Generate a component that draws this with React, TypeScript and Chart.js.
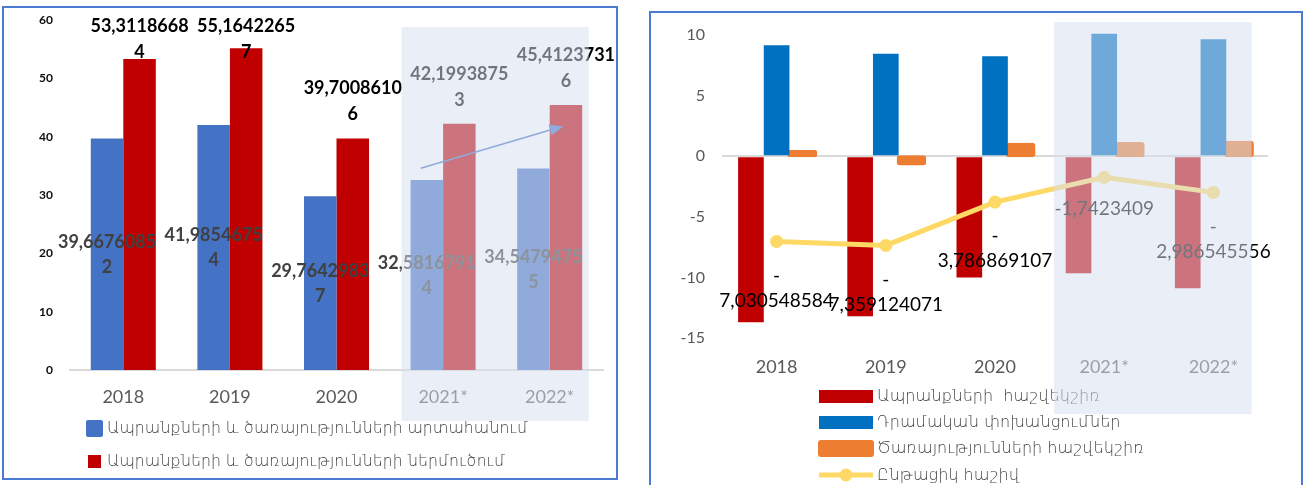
import React, { useEffect, useRef } from 'react';
import { Chart, registerables } from 'chart.js';

Chart.register(...registerables);

// ---------- Left chart data ----------
const YEARS = ['2018', '2019', '2020', '2021*', '2022*'];
const EXPORTS = [39.66760852, 41.98546754, 29.76429837, 32.58167914, 34.54794755];
const IMPORTS = [53.31186684, 55.16422657, 39.70086106, 42.19938753, 45.41237316];
const LEFT_SERIES = [
  'Ապրանքների և ծառայությունների արտահանում',
  'Ապրանքների և ծառայությունների ներմուծում',
];
const LEFT_Y_TICKS = [0, 10, 20, 30, 40, 50, 60];
const TREND_ARROW = [
  { index: 3, shift: -0.21, value: 34.6 },
  { index: 4, shift: 0.13, value: 41.8 },
];

// ---------- Right chart data ----------
const GOODS_BALANCE = [-13.7, -13.2, -10.0, -9.65, -10.9];
const REMITTANCES = [9.15, 8.45, 8.25, 10.1, 9.65];
const SERVICES_BALANCE = [0.35, -0.6, 0.95, 1.0, 1.1];
const CURRENT_ACCOUNT = [-7.030548584, -7.359124071, -3.786869107, -1.7423409, -2.986545556];
const RIGHT_SERIES = [
  'Ապրանքների  հաշվեկշիռ',
  'Դրամական փոխանցումներ',
  'Ծառայությունների հաշվեկշիռ',
  'Ընթացիկ հաշիվ',
];
const RIGHT_Y_TICKS = [-15, -10, -5, 0, 5, 10];
const FORECAST_START = 3;

const NUM_FONT = 'Lato, "Open Sans", sans-serif';
const LEGEND_FONT = '"DejaVu Sans", sans-serif';
const SHADE = 'rgba(212,222,240,0.52)';

function splitLeft(v: number): string[] {
  const s = String(v).replace('.', ',');
  return s.length > 10 ? [s.slice(0, 10), s.slice(10)] : [s];
}
function splitRight(v: number): string[] {
  const s = String(v).replace('.', ',');
  return s.length > 10 ? [s.slice(0, 1), s.slice(1)] : [s];
}

const leftDecor = {
  id: 'leftDecor',
  afterDraw(chart: any) {
    const { ctx, chartArea, scales } = chart;
    const x = scales.x;
    const y = scales.y;
    const catW = x.getPixelForValue(1) - x.getPixelForValue(0);
    ctx.save();
    ctx.textAlign = 'center';
    ctx.textBaseline = 'middle';
    ctx.font = `bold 18px ${NUM_FONT}`;
    // export labels (centered in bar)
    chart.getDatasetMeta(0).data.forEach((bar: any, i: number) => {
      const lines = splitLeft(EXPORTS[i]);
      const c = (bar.y + bar.base) / 2;
      ctx.fillStyle = '#404040';
      ctx.fillText(lines[0], bar.x, c - 12);
      if (lines[1]) ctx.fillText(lines[1], bar.x, c + 13);
    });
    // import labels (above bar, kept inside the plot)
    chart.getDatasetMeta(1).data.forEach((bar: any, i: number) => {
      const lines = splitLeft(IMPORTS[i]);
      const l1 = Math.max(bar.y - 50, chartArea.top + 6);
      ctx.fillStyle = '#000000';
      ctx.fillText(lines[0], bar.x, l1);
      if (lines[1]) ctx.fillText(lines[1], bar.x, l1 + 26);
    });
    // legend
    ctx.textAlign = 'left';
    ctx.font = `300 15.7px ${LEGEND_FONT}`;
    ctx.fillStyle = '#4472C4';
    ctx.beginPath();
    ctx.roundRect(82, 412, 17, 17, 2);
    ctx.fill();
    ctx.fillStyle = '#C00000';
    ctx.fillRect(84, 447, 13, 13);
    ctx.fillStyle = '#404040';
    ctx.fillText(LEFT_SERIES[0], 103, 421);
    ctx.fillText(LEFT_SERIES[1], 103, 454);
    // trend arrow
    const ax0 = x.getPixelForValue(TREND_ARROW[0].index) + TREND_ARROW[0].shift * catW;
    const ay0 = y.getPixelForValue(TREND_ARROW[0].value);
    const ax1 = x.getPixelForValue(TREND_ARROW[1].index) + TREND_ARROW[1].shift * catW;
    const ay1 = y.getPixelForValue(TREND_ARROW[1].value);
    const ang = Math.atan2(ay1 - ay0, ax1 - ax0);
    const hl = 14;
    ctx.strokeStyle = '#4472C4';
    ctx.fillStyle = '#4472C4';
    ctx.lineWidth = 1.5;
    ctx.beginPath();
    ctx.moveTo(ax0, ay0);
    ctx.lineTo(ax1 - Math.cos(ang) * hl * 0.8, ay1 - Math.sin(ang) * hl * 0.8);
    ctx.stroke();
    ctx.beginPath();
    ctx.moveTo(ax1, ay1);
    ctx.lineTo(ax1 - Math.cos(ang) * hl + Math.sin(ang) * 5.5, ay1 - Math.sin(ang) * hl - Math.cos(ang) * 5.5);
    ctx.lineTo(ax1 - Math.cos(ang) * hl - Math.sin(ang) * 5.5, ay1 - Math.sin(ang) * hl + Math.cos(ang) * 5.5);
    ctx.closePath();
    ctx.fill();
    // forecast shade
    const x0 = x.getPixelForValue(FORECAST_START) - 0.39 * catW;
    const x1 = x.getPixelForValue(YEARS.length - 1) + 0.366 * catW;
    const y0 = y.getPixelForValue(58.8);
    const y1 = chartArea.bottom + 51;
    ctx.fillStyle = SHADE;
    ctx.fillRect(x0, y0, x1 - x0, y1 - y0);
    ctx.restore();
  },
};

const rightDecor = {
  id: 'rightDecor',
  afterDraw(chart: any) {
    const { ctx, chartArea, scales } = chart;
    const x = scales.x;
    const catW = x.getPixelForValue(1) - x.getPixelForValue(0);
    ctx.save();
    // current account labels
    ctx.textAlign = 'center';
    ctx.textBaseline = 'middle';
    ctx.font = `19px ${NUM_FONT}`;
    ctx.fillStyle = '#000000';
    chart.getDatasetMeta(3).data.forEach((pt: any, i: number) => {
      const lines = splitRight(CURRENT_ACCOUNT[i]);
      if (lines.length === 1) {
        ctx.fillText(lines[0], pt.x, pt.y + 32);
      } else {
        ctx.fillText(lines[0], pt.x, pt.y + 34);
        ctx.fillText(lines[1], pt.x, pt.y + 59);
      }
    });
    // legend
    ctx.textAlign = 'left';
    ctx.font = `300 16px ${LEGEND_FONT}`;
    ctx.fillStyle = '#C00000';
    ctx.fillRect(168, 377, 54, 13);
    ctx.fillStyle = '#0070C0';
    ctx.fillRect(168, 403, 54, 13);
    ctx.fillStyle = '#ED7D31';
    ctx.beginPath();
    ctx.roundRect(167, 427, 56, 17, 3);
    ctx.fill();
    ctx.strokeStyle = '#FFD966';
    ctx.lineWidth = 5;
    ctx.beginPath();
    ctx.moveTo(168, 462);
    ctx.lineTo(222, 462);
    ctx.stroke();
    ctx.fillStyle = '#FFD966';
    ctx.beginPath();
    ctx.arc(195, 462, 6.5, 0, Math.PI * 2);
    ctx.fill();
    ctx.fillStyle = '#404040';
    ctx.fillText(RIGHT_SERIES[0], 226, 384);
    ctx.fillText(RIGHT_SERIES[1], 226, 410);
    ctx.fillText(RIGHT_SERIES[2], 226, 436);
    ctx.fillText(RIGHT_SERIES[3], 226, 463);
    // forecast shade
    const x0 = x.getPixelForValue(FORECAST_START) - 0.46 * catW;
    const x1 = x.getPixelForValue(YEARS.length - 1) + 0.35 * catW;
    const y0 = chartArea.top - 13;
    const y1 = chartArea.bottom + 76;
    ctx.fillStyle = SHADE;
    ctx.fillRect(x0, y0, x1 - x0, y1 - y0);
    ctx.restore();
  },
};

function fixYAxis(width: number) {
  return (s: any) => {
    s.width = width;
    s.paddingTop = 0;
    s.paddingBottom = 0;
  };
}

function LeftChart() {
  const ref = useRef<HTMLCanvasElement>(null);
  useEffect(() => {
    if (!ref.current) return;
    const chart = new Chart(ref.current, {
      type: 'bar',
      data: {
        labels: YEARS,
        datasets: [
          { label: LEFT_SERIES[0], data: EXPORTS, backgroundColor: '#4472C4' },
          { label: LEFT_SERIES[1], data: IMPORTS, backgroundColor: '#C00000' },
        ],
      },
      options: {
        responsive: false,
        animation: false,
        datasets: { bar: { categoryPercentage: 0.61, barPercentage: 1 } },
        layout: { autoPadding: false, padding: { left: 0, right: 13, top: 12, bottom: 63 } },
        plugins: { legend: { display: false }, tooltip: { enabled: false } },
        scales: {
          x: {
            grid: { display: false, drawTicks: false },
            border: { display: true, color: '#D9D9D9', width: 2 },
            ticks: { color: '#595959', font: { family: NUM_FONT, size: 18 }, padding: 16 },
            afterFit: (s: any) => { s.height = 45; },
          },
          y: {
            min: 0,
            max: 60,
            grid: { display: false, drawTicks: false },
            border: { display: false },
            ticks: { color: '#0D0D0D', font: { family: NUM_FONT, size: 12, weight: 'bold' }, padding: 17 },
            afterBuildTicks: (s: any) => { s.ticks = LEFT_Y_TICKS.map((v) => ({ value: v })); },
            afterFit: fixYAxis(66),
          },
        },
      } as any,
      plugins: [leftDecor],
    });
    return () => chart.destroy();
  }, []);
  return <canvas ref={ref} width={612} height={470} style={{ display: 'block' }} />;
}

function RightChart() {
  const ref = useRef<HTMLCanvasElement>(null);
  useEffect(() => {
    if (!ref.current) return;
    const chart = new Chart(ref.current, {
      type: 'bar',
      data: {
        labels: YEARS,
        datasets: [
          { label: RIGHT_SERIES[0], data: GOODS_BALANCE, backgroundColor: '#C00000', order: 1 },
          { label: RIGHT_SERIES[1], data: REMITTANCES, backgroundColor: '#0070C0', order: 1, clip: false },
          {
            label: RIGHT_SERIES[2],
            data: SERVICES_BALANCE,
            backgroundColor: '#ED7D31',
            borderColor: '#ED7D31',
            borderWidth: 1,
            borderRadius: 3,
            borderSkipped: false,
            inflateAmount: 2,
            order: 1,
          },
          {
            type: 'line',
            label: RIGHT_SERIES[3],
            data: CURRENT_ACCOUNT,
            borderColor: '#FFD966',
            backgroundColor: '#FFD966',
            borderWidth: 5,
            pointRadius: 6.5,
            pointBorderWidth: 0,
            pointBackgroundColor: '#FFD966',
            tension: 0,
            order: 0,
          },
        ],
      } as any,
      options: {
        responsive: false,
        animation: false,
        datasets: { bar: { categoryPercentage: 0.705, barPercentage: 1 } },
        layout: { autoPadding: false, padding: { left: 0, right: 33, top: 22, bottom: 111 } },
        plugins: { legend: { display: false }, tooltip: { enabled: false } },
        scales: {
          x: {
            offset: true,
            grid: { display: false, drawTicks: false },
            border: { display: false },
            ticks: { color: '#595959', font: { family: NUM_FONT, size: 18 }, padding: 18 },
            afterFit: (s: any) => { s.height = 40; },
          },
          y: {
            min: -15,
            max: 10,
            grid: {
              drawTicks: false,
              lineWidth: 2,
              color: (c: any) => (c.tick && c.tick.value === 0 ? '#D9D9D9' : 'rgba(0,0,0,0)'),
            },
            border: { display: false },
            ticks: { color: '#595959', font: { family: NUM_FONT, size: 16 }, padding: 17 },
            afterBuildTicks: (s: any) => { s.ticks = RIGHT_Y_TICKS.map((v) => ({ value: v })); },
            afterFit: fixYAxis(71),
          },
        },
      } as any,
      plugins: [rightDecor],
    });
    return () => chart.destroy();
  }, []);
  return <canvas ref={ref} width={650} height={476} style={{ display: 'block' }} />;
}

export default function App() {
  return (
    <div style={{ position: 'absolute', left: 0, top: 0, width: 1306, height: 485, overflow: 'hidden', background: '#fff' }}>
      <div style={{ position: 'absolute', left: 2, top: 6, border: '2px solid #4A7BD0' }}>
        <LeftChart />
      </div>
      <div style={{ position: 'absolute', left: 649, top: 11, border: '2px solid #4A7BD0' }}>
        <RightChart />
      </div>
    </div>
  );
}
